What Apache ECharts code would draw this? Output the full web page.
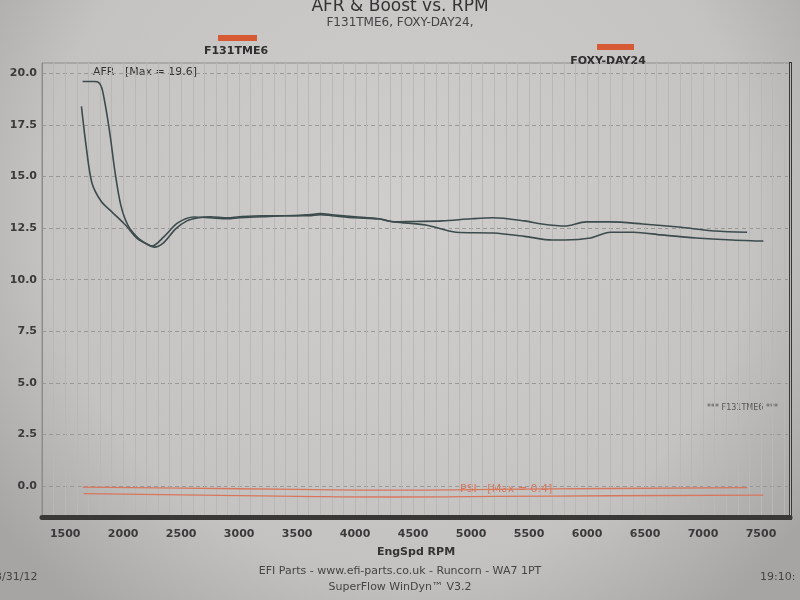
<!DOCTYPE html>
<html>
<head>
<meta charset="utf-8">
<title>AFR & Boost vs. RPM</title>
<script src="https://cdn.jsdelivr.net/npm/echarts@6/dist/echarts.min.js"></script>
<style>
html, body { margin: 0; padding: 0; }
#chart { width: 800px; height: 600px; }
</style>
</head>
<body>
<div id="chart"></div>
<script>
// run F131TME6 (afr)
var rpmA = [1650, 1700, 1750, 1790, 1815, 1835, 1860, 1890, 1930, 1980, 2040, 2120, 2200, 2270, 2350, 2450, 2550, 2650, 2750, 2900, 3000, 3200, 3400, 3600, 3700, 3800, 4000, 4200, 4340, 4500, 4750, 5000, 5190, 5460, 5610, 5810, 5990, 6200, 6480, 6790, 7100, 7380];
var afrA = [19.6, 19.6, 19.6, 19.55, 19.3, 18.8, 18.0, 16.9, 15.2, 13.6, 12.65, 12.07, 11.75, 11.58, 11.8, 12.45, 12.85, 13.0, 13.05, 13.0, 13.05, 13.1, 13.1, 13.15, 13.2, 13.15, 13.05, 12.95, 12.8, 12.82, 12.85, 12.95, 13.0, 12.85, 12.7, 12.6, 12.8, 12.8, 12.7, 12.55, 12.36, 12.3];
// run FOXY-DAY24 (afr)
var rpmB = [1640, 1680, 1730, 1810, 1900, 2020, 2120, 2210, 2250, 2350, 2470, 2610, 2750, 2900, 3000, 3200, 3400, 3600, 3700, 3800, 4000, 4200, 4340, 4610, 4870, 5190, 5460, 5700, 5810, 6030, 6200, 6400, 6640, 6940, 7250, 7520];
var afrB = [18.4, 16.5, 14.7, 13.8, 13.3, 12.65, 12.0, 11.7, 11.63, 12.07, 12.75, 13.04, 13.0, 12.95, 13.0, 13.05, 13.1, 13.1, 13.15, 13.1, 13.0, 12.95, 12.8, 12.65, 12.3, 12.26, 12.1, 11.92, 11.92, 12.02, 12.3, 12.3, 12.17, 12.02, 11.92, 11.87];
// boost (psi)
var rpmPsiA = [1650, 2500, 3500, 4340, 5200, 6200, 7380];
var psiA = [-0.05, -0.1, -0.16, -0.2, -0.16, -0.12, -0.08];
var rpmPsiB = [1660, 2500, 3500, 4340, 5200, 6200, 7520];
var psiB = [-0.37, -0.43, -0.5, -0.53, -0.5, -0.47, -0.44];

function pairs(xs, ys) {
  return xs.map(function (x, i) { return [x, ys[i]]; });
}

var chart = echarts.init(document.getElementById('chart'));

var option = {
  backgroundColor: {
    type: 'radial', x: 0.5, y: 0.35, r: 0.85,
    colorStops: [
      { offset: 0, color: '#d0cecc' },
      { offset: 0.7, color: '#c5c3c1' },
      { offset: 1, color: '#a7a5a3' }
    ]
  },
  animation: false,
  grid: {
    left: 42, right: 10, top: 63, bottom: 83,
    show: true, borderColor: '#8e8c8a', borderWidth: 1
  },
  xAxis: {
    type: 'value',
    min: 1300, max: 7750, interval: 100,
    name: 'EngSpd RPM',
    nameLocation: 'middle',
    nameGap: 30,
    nameTextStyle: { fontFamily: 'DejaVu Sans', fontWeight: 'bold', fontSize: 11, color: '#333' },
    axisLine: { show: true, onZero: false, lineStyle: { color: '#3a3836', width: 5 } },
    axisTick: { show: false },
    axisLabel: {
      margin: 12,
      fontFamily: 'DejaVu Sans', fontWeight: 'bold', fontSize: 11, color: '#3a3a3a',
      formatter: function (v) { return v % 500 === 0 ? String(v) : ''; }
    },
    splitLine: { show: true, lineStyle: { color: '#bab8b6', width: 1 } }
  },
  yAxis: {
    type: 'value',
    min: -1.5, max: 20.5, interval: 0.5,
    axisLine: { show: true, lineStyle: { color: '#8e8c8a' } },
    axisTick: { show: false },
    axisLabel: {
      margin: 5,
      fontFamily: 'DejaVu Sans', fontWeight: 'bold', fontSize: 11, color: '#3a3a3a',
      formatter: function (v) {
        var r = Math.round(v * 10) / 10;
        return (Math.abs(r % 2.5) < 1e-6 && r >= 0 && r <= 20) ? r.toFixed(1) : '';
      }
    },
    splitLine: {
      show: true,
      lineStyle: {
        // only every 5th line (the 2.5 steps) is visible
        color: ['rgba(0,0,0,0)', 'rgba(0,0,0,0)', 'rgba(0,0,0,0)', '#9a9896', 'rgba(0,0,0,0)'],
        type: [4, 3], width: 1
      }
    }
  },
  series: [
    { name: 'F131TME6', type: 'line', data: pairs(rpmA, afrA), smooth: 0.3, showSymbol: false,
      lineStyle: { color: '#3c4b4d', width: 1.6 } },
    { name: 'FOXY-DAY24', type: 'line', data: pairs(rpmB, afrB), smooth: 0.3, showSymbol: false,
      lineStyle: { color: '#3c4b4d', width: 1.6 } },
    { name: 'PSI F131TME6', type: 'line', data: pairs(rpmPsiA, psiA), smooth: true, showSymbol: false,
      lineStyle: { color: '#d8765c', width: 1.3 } },
    { name: 'PSI FOXY-DAY24', type: 'line', data: pairs(rpmPsiB, psiB), smooth: true, showSymbol: false,
      lineStyle: { color: '#d8765c', width: 1.3 } }
  ],
  graphic: [
    { type: 'text', left: 'center', top: -2, style: { text: 'AFR & Boost vs. RPM', font: '17px "DejaVu Sans"', fill: '#333' } },
    { type: 'text', left: 'center', top: 17, style: { text: 'F131TME6, FOXY-DAY24,', font: '12px "DejaVu Sans"', fill: '#444' } },
    // run legend
    { type: 'rect', shape: { x: 218, y: 35, width: 39, height: 6 }, style: { fill: '#d65a34' } },
    { type: 'text', x: 236, y: 46, style: { text: 'F131TME6', font: 'bold 11px "DejaVu Sans"', fill: '#2e2e2e', align: 'center' } },
    { type: 'rect', shape: { x: 597, y: 44, width: 37, height: 6 }, style: { fill: '#d65a34' } },
    { type: 'text', x: 608, y: 56, style: { text: 'FOXY-DAY24', font: 'bold 11px "DejaVu Sans"', fill: '#2e2e2e', align: 'center' } },
    // plot notes
    { type: 'text', x: 93, y: 67, style: { text: 'AFR   [Max = 19.6]', font: '11px "DejaVu Sans"', fill: '#333' } },
    { type: 'text', x: 460, y: 484, style: { text: 'PSI   [Max = 0.4]', font: '11px "DejaVu Sans"', fill: '#d8765c' } },
    { type: 'text', x: 707, y: 404, style: { text: '*** F131TME6 ***', font: '8px "DejaVu Sans"', fill: '#555' } },
    // right edge of the frame
    { type: 'rect', shape: { x: 789, y: 62, width: 3, height: 458 }, style: { fill: '#3a3836' } },
    // footer
    { type: 'text', left: 'center', top: 566, style: { text: 'EFI Parts - www.efi-parts.co.uk - Runcorn - WA7 1PT', font: '11px "DejaVu Sans"', fill: '#444' } },
    { type: 'text', left: 'center', top: 582, style: { text: 'SuperFlow WinDyn\u2122 V3.2', font: '11px "DejaVu Sans"', fill: '#444' } },
    { type: 'text', x: -5, y: 572, style: { text: '3/31/12', font: '11px "DejaVu Sans"', fill: '#444' } },
    { type: 'text', x: 760, y: 572, style: { text: '19:10:', font: '11px "DejaVu Sans"', fill: '#444' } }
  ]
};

chart.setOption(option);
</script>
</body>
</html>
